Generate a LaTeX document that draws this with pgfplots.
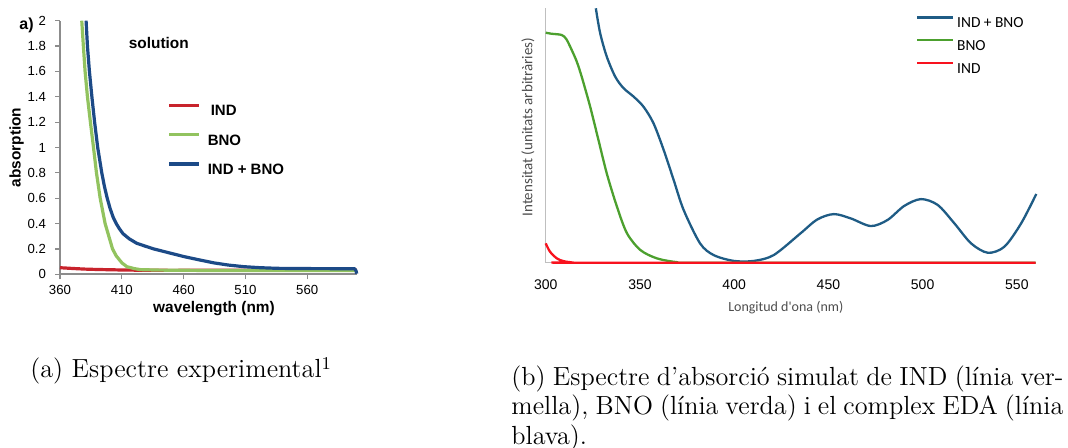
\documentclass[border=0pt]{standalone}
\usepackage{fontspec}
\usepackage{pgfplots}
\pgfplotsset{compat=1.18}
\newfontfamily\arial{Liberation Sans}
\newfontfamily\carlito{Carlito}
\definecolor{lred}{HTML}{C8232C}
\definecolor{lgreen}{HTML}{92C35F}
\definecolor{lblue}{HTML}{1C4A87}
\definecolor{rred}{HTML}{F8121E}
\definecolor{rgreen}{HTML}{4CA02E}
\definecolor{rblue}{HTML}{1F5C85}
\definecolor{lgray}{HTML}{8C8C8C}
\definecolor{rgray}{HTML}{BFBFBF}
\definecolor{rtext}{HTML}{4D4D4D}
\begin{document}
\begin{tikzpicture}
\useasboundingbox (0,0) rectangle (534pt,224pt);
% ---------------- (a) experimental ----------------
\begin{axis}[
  at={(30pt,86.85pt)}, anchor=south west, scale only axis,
  width=148.35pt, height=126.8pt,
  xmin=360, xmax=600, ymin=0, ymax=2,
  xtick={360,410,460,510,560},
  ytick={0,0.2,0.4,0.6,0.8,1,1.2,1.4,1.6,1.8,2},
  axis x line=bottom, axis y line=left,
  axis line style={-, draw=lgray, line width=0.8pt},
  tick style={draw=lgray, line width=0.6pt}, tick align=outside, major tick length=2.5pt,
  clip=false,
  /pgf/number format/assume math mode=true,
  ticklabel style={font=\arial\fontsize{6.6}{8}\selectfont},
  xticklabel style={yshift=-1.6pt, inner sep=1pt},
  yticklabel style={xshift=-1pt},
  xlabel={wavelength (nm)},
  xlabel style={font=\arial\bfseries\fontsize{7.7}{9}\selectfont, inner sep=0pt, at={([yshift=-19.2pt]rel axis cs:0.519,0)}, anchor=base},
  ylabel={absorption},
  ylabel style={font=\arial\bfseries\fontsize{7.7}{9}\selectfont, at={([xshift=-21.7pt]rel axis cs:0,0.5)}, anchor=center},
  legend style={draw=none, fill=none, inner sep=0pt, at={(rel axis cs:0.362,0.675)}, anchor=north west,
    font=\arial\bfseries\fontsize{7.5}{9}\selectfont, row sep=8.5pt,
    nodes={inner sep=0pt, text height=5.4pt, text depth=0pt}},
  legend cell align=left,
  legend image code/.code={\draw[#1, line width=1.6pt] (0pt,2.7pt) -- (14.7pt,2.7pt);},
  /tikz/every even column/.append style={column sep=0pt},
  /tikz/every odd column/.append style={column sep=3.7pt},
]
\addplot[lred, line width=1.6pt] coordinates {
(360,0.052)(370,0.046)(380,0.041)(390,0.038)(400,0.036)(410,0.034)(425,0.032)(450,0.031)(500,0.032)(550,0.034)(600,0.035)};
\addlegendentry{\hspace*{1.5pt}IND}
\addplot[lgreen, line width=1.6pt] coordinates {
(377.6,2.0)(378.9,1.8)(380.3,1.6)(382.2,1.4)(384.6,1.2)(387.1,1.0)(389.5,0.8)(392.5,0.6)(396.5,0.4)(399.5,0.3)(402.5,0.2)(405.5,0.145)(410.1,0.09)(414.1,0.06)(420,0.045)(425,0.037)(440,0.033)(480,0.03)(600,0.03)};
\addlegendentry{BNO}
\addplot[lblue, line width=1.6pt] coordinates {
(381.1,2.0)(382.2,1.8)(383.8,1.6)(385.8,1.4)(388.0,1.2)(390.5,1.0)(393.8,0.8)(396,0.69)(398.2,0.6)(400.5,0.52)(403,0.45)(405.5,0.4)(408,0.36)(411,0.32)(416,0.28)(422,0.245)(428,0.225)(435.8,0.2)(448,0.17)(460.1,0.14)(472,0.115)(484.5,0.09)(496,0.073)(508.8,0.06)(522,0.052)(535.9,0.047)(560,0.045)(598.1,0.044)(599.4,0.03)(600,0.005)};
\addlegendentry{IND + BNO}
\node[font=\arial\bfseries\fontsize{8}{9}\selectfont, anchor=center] at ([xshift=-16.7pt,yshift=-2.2pt]rel axis cs:0,1) {a)};
\node[font=\arial\bfseries\fontsize{7.7}{9}\selectfont, anchor=base] at (rel axis cs:0.333,0.889) {solution};
\end{axis}
% ---------------- (b) simulated ----------------
\begin{axis}[
  at={(272.85pt,92.65pt)}, anchor=south west, scale only axis,
  width=245pt, height=127.2pt,
  xmin=300, xmax=560, ymin=0, ymax=1,
  xtick={300,350,400,450,500,550}, ytick=\empty,
  axis x line=bottom, axis y line=left,
  axis line style={-, draw=rgray, line width=0.6pt},
  major tick length=0pt,
  clip=false,
  /pgf/number format/assume math mode=true,
  ticklabel style={font=\arial\fontsize{7}{8}\selectfont},
  xticklabel style={yshift=-5pt},
  xlabel={Longitud d'ona (nm)},
  xlabel style={font=\carlito\fontsize{7}{8}\selectfont, text=rtext, at={([yshift=-22.6pt]rel axis cs:0.49,0)}, anchor=center},
  ylabel={Intensitat (unitats arbitràries)},
  ylabel style={font=\carlito\fontsize{7.5}{8}\selectfont, text=rtext, at={([xshift=-8.85pt]rel axis cs:0,0.533)}, anchor=center},
  legend style={draw=none, fill=none, inner sep=0pt, at={(rel axis cs:0.755,0.97)}, anchor=north west,
    font=\carlito\fontsize{7.7}{9}\selectfont, row sep=5.6pt,
    nodes={inner sep=0pt, text height=5.2pt, text depth=0pt}},
  legend cell align=left,
  legend image code/.code={\draw[#1, line width=1.15pt] (0pt,2.6pt) -- (18pt,2.6pt);},
  /tikz/every odd column/.append style={column sep=1.4pt},
]
\addplot[rblue, line width=1.15pt, smooth, tension=0.5] coordinates {
(326.6,1.0)(328.9,0.902)(332.4,0.81)(336.9,0.731)(341.3,0.686)(346.6,0.653)(351.9,0.613)(357.2,0.548)(362.6,0.443)(367.9,0.325)(373.2,0.207)(381.9,0.076)(389.1,0.03)(399.8,0.007)(410.4,0.007)(421,0.03)(435.3,0.116)(444.1,0.17)(452.9,0.191)(461.9,0.174)(472.5,0.144)(481.4,0.168)(490.2,0.223)(499.1,0.25)(508,0.227)(516.8,0.155)(525.7,0.076)(534.6,0.039)(543.4,0.063)(552.3,0.155)(560.3,0.27)};
\addlegendentry{IND + BNO}
\addplot[rgreen, line width=1.15pt, smooth, tension=0.5] coordinates {
(300,0.904)(303,0.9)(308.5,0.895)(311,0.878)(313.8,0.836)(316.5,0.79)(319.1,0.731)(323.6,0.613)(328,0.482)(332.4,0.351)(337.8,0.22)(343.1,0.116)(350.2,0.05)(359,0.017)(369.7,0.002)(380,0)(560,0)};
\addlegendentry{BNO}
\addplot[rred, line width=1.15pt, smooth, tension=0.5] coordinates {
(300,0.076)(302.3,0.043)(305.9,0.017)(309,0.007)(312.9,0.002)(320,0)(560,0)};
\addlegendentry{IND}
\end{axis}
% ---------------- captions ----------------
\node[anchor=base west, inner sep=0pt, font=\fontsize{13.1}{14.8}\selectfont] at (15pt,35pt) {(a) Espectre experimental$^1$};
\node[anchor=base west, inner sep=0pt, font=\fontsize{13.1}{14.8}\selectfont] at (255.5pt,31.2pt) {\hbox to 276pt{(b) Espectre d'absorció simulat de IND (línia ver-}};
\node[anchor=base west, inner sep=0pt, font=\fontsize{13.1}{14.8}\selectfont] at (255.5pt,16.5pt) {\hbox to 276pt{mella), BNO (línia verda) i el complex EDA (línia}};
\node[anchor=base west, inner sep=0pt, font=\fontsize{13.1}{14.8}\selectfont] at (255.5pt,1.9pt) {blava).};
\end{tikzpicture}
\end{document}
